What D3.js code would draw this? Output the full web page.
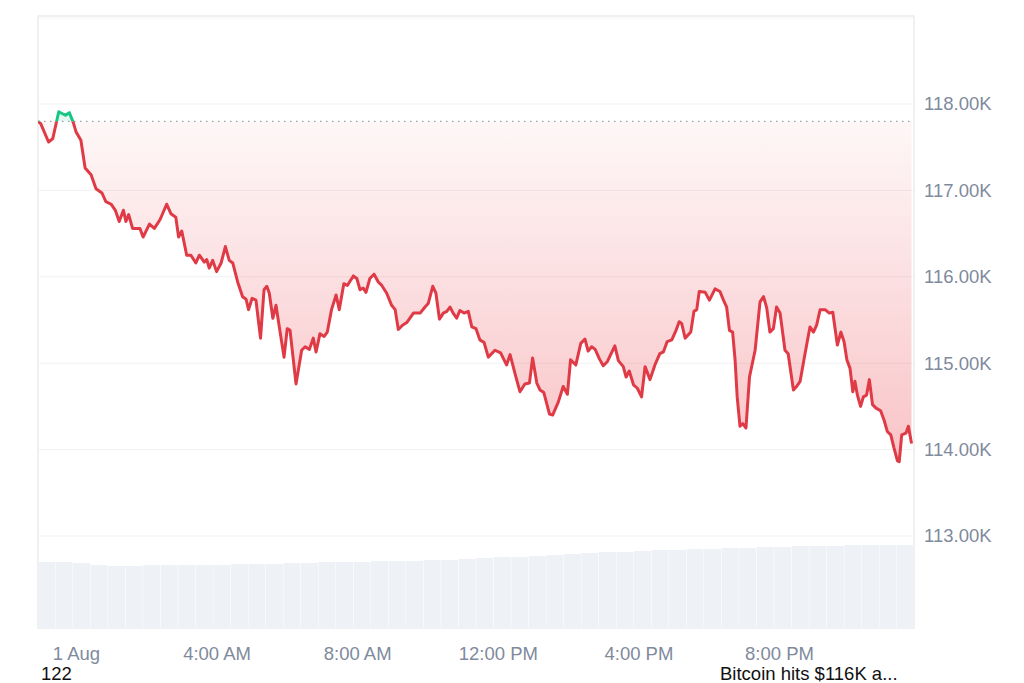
<!DOCTYPE html>
<html><head><meta charset="utf-8">
<script src="https://cdn.jsdelivr.net/npm/d3@7/dist/d3.min.js"></script>
<style>
html,body{margin:0;padding:0;background:#fff;}
svg{display:block;font-family:"Liberation Sans",Arial,sans-serif;}
</style></head>
<body>
<svg id="c" width="1024" height="683"></svg>
<script>
// hours since 1 Aug 00:00
const hours = [-1.08,-1.00,-0.78,-0.66,-0.55,-0.49,-0.30,-0.19,-0.08,0.00,0.14,0.26,0.43,0.57,0.74,0.85,1.00,1.12,1.23,1.35,1.42,1.50,1.61,1.82,1.91,2.09,2.23,2.39,2.58,2.70,2.84,2.92,3.01,3.15,3.27,3.41,3.51,3.65,3.72,3.79,3.89,4.00,4.13,4.25,4.36,4.46,4.60,4.74,4.84,4.91,5.01,5.12,5.25,5.35,5.43,5.50,5.60,5.69,5.80,5.92,6.01,6.09,6.26,6.42,6.52,6.64,6.75,6.83,6.94,7.06,7.15,7.27,7.40,7.49,7.62,7.72,7.89,7.99,8.08,8.17,8.25,8.36,8.48,8.60,8.70,8.84,8.98,9.08,9.17,9.29,9.41,9.60,9.79,9.93,10.02,10.15,10.24,10.34,10.45,10.55,10.64,10.73,10.83,10.92,11.04,11.16,11.26,11.38,11.49,11.61,11.73,11.92,12.08,12.25,12.35,12.49,12.63,12.77,12.90,12.99,13.11,13.20,13.31,13.47,13.56,13.72,13.86,13.98,14.07,14.22,14.36,14.48,14.57,14.67,14.77,14.89,15.00,15.12,15.21,15.33,15.43,15.57,15.65,15.74,15.86,15.97,16.09,16.19,16.33,16.47,16.61,16.71,16.82,16.95,17.07,17.16,17.23,17.33,17.49,17.58,17.66,17.73,17.90,18.02,18.18,18.32,18.42,18.51,18.59,18.68,18.75,18.81,18.89,18.97,19.06,19.16,19.32,19.46,19.56,19.65,19.74,19.84,19.93,20.03,20.17,20.26,20.41,20.50,20.60,20.74,20.88,20.98,21.07,21.17,21.31,21.43,21.53,21.66,21.76,21.85,21.93,22.02,22.10,22.16,22.23,22.32,22.40,22.49,22.57,22.66,22.76,22.89,22.99,23.08,23.18,23.27,23.37,23.42,23.49,23.61,23.68,23.77];
// price in thousands USD
const prices = [117.80,117.77,117.56,117.60,117.80,117.91,117.87,117.90,117.79,117.68,117.58,117.26,117.18,117.02,116.97,116.87,116.84,116.77,116.64,116.77,116.64,116.72,116.56,116.56,116.46,116.61,116.56,116.66,116.84,116.73,116.69,116.46,116.53,116.25,116.25,116.16,116.25,116.17,116.20,116.10,116.19,116.06,116.16,116.35,116.19,116.16,115.94,115.77,115.74,115.62,115.75,115.73,115.29,115.85,115.89,115.81,115.52,115.67,115.38,115.07,115.40,115.38,114.76,115.15,115.19,115.16,115.29,115.13,115.34,115.31,115.36,115.62,115.79,115.62,115.92,115.90,116.01,115.98,115.85,115.87,115.82,115.98,116.03,115.94,115.90,115.81,115.67,115.62,115.39,115.44,115.47,115.58,115.58,115.65,115.69,115.89,115.81,115.51,115.58,115.60,115.65,115.58,115.52,115.61,115.58,115.60,115.42,115.40,115.27,115.24,115.07,115.15,115.12,114.98,115.10,114.88,114.67,114.76,114.77,115.06,114.77,114.69,114.66,114.41,114.40,114.55,114.73,114.64,115.04,114.98,115.23,115.28,115.14,115.19,115.16,115.05,114.97,115.02,115.10,115.20,115.03,114.96,114.84,114.91,114.75,114.71,114.61,114.96,114.81,114.98,115.11,115.13,115.25,115.27,115.38,115.48,115.46,115.29,115.36,115.60,115.62,115.83,115.82,115.73,115.86,115.83,115.73,115.65,115.38,115.36,115.04,114.61,114.27,114.30,114.25,114.84,115.15,115.71,115.77,115.64,115.36,115.40,115.65,115.58,115.15,115.11,114.69,114.73,114.79,115.11,115.42,115.36,115.44,115.62,115.62,115.58,115.59,115.21,115.36,115.25,115.04,114.94,114.67,114.79,114.63,114.50,114.61,114.63,114.81,114.52,114.48,114.45,114.34,114.21,114.17,114.02,113.87,113.86,114.17,114.19,114.27,114.07];
const openPrice = 117.80;
// volume (relative units), one per 30-minute bucket
const volume = [66,66,65,63,62,62,63,63,63,63,63,64,64,64,65,65,66,66,66,67,67,67,68,68,69,70,71,71,72,73,74,75,76,76,77,78,78,79,79,80,80,81,81,82,82,82,83,83,83,83];
const yTicks = [113,114,115,116,117,118];
const xTickHours = [0,4,8,12,16,20];
const domainHours = [-1.08, 23.84];
const bottomLeftText = "122";
const bottomRightText = "Bitcoin hits $116K a...";

const base = new Date(2025,7,1,0,0,0).getTime();
const toDate = h => new Date(base + h*3600e3);
const data = hours.map((h,i)=>({t:toDate(h), p:prices[i]}));

const L=38, R=914, T=16, B=628;
const svg = d3.select("#c");
const x = d3.scaleTime().domain(domainHours.map(toDate)).range([L,R]);
const y = d3.scaleLinear().domain([113,118]).range([536,104]);
const yv = d3.scaleLinear().domain([0,100]).range([B, B-100]);

const defs = svg.append("defs");
const y0 = y(openPrice);
const ymin = y(d3.min(prices));
const gR = defs.append("linearGradient").attr("id","gr").attr("gradientUnits","userSpaceOnUse")
  .attr("x1",0).attr("x2",0).attr("y1",y0).attr("y2",ymin);
gR.append("stop").attr("offset",0).attr("stop-color","#ea3943").attr("stop-opacity",0.04);
gR.append("stop").attr("offset",1).attr("stop-color","#ea3943").attr("stop-opacity",0.30);
defs.append("clipPath").attr("id","below").append("rect").attr("x",L).attr("y",y0).attr("width",R-L).attr("height",B-y0);
defs.append("clipPath").attr("id","above").append("rect").attr("x",L).attr("y",T).attr("width",R-L).attr("height",y0-T);

// frame
svg.append("rect").attr("x",L).attr("y",T).attr("width",R-L).attr("height",B-T)
  .attr("fill","#fff").attr("stroke","#ececec").attr("stroke-width",1.5);
svg.append("line").attr("x1",L).attr("x2",R).attr("y1",T+2).attr("y2",T+2).attr("stroke","#f4f4f4");

// grid
svg.append("g").selectAll("line").data(yTicks).join("line")
  .attr("x1",L).attr("x2",R).attr("y1",d=>y(d)).attr("y2",d=>y(d))
  .attr("stroke","#eff1f3").attr("stroke-width",1);

// volume bars
const vb = d3.scaleBand().domain(d3.range(volume.length)).range([L,R]).paddingInner(0.03);
svg.append("g").selectAll("rect").data(volume).join("rect")
  .attr("x",(d,i)=>vb(i)).attr("width",vb.bandwidth())
  .attr("y",d=>yv(d)).attr("height",d=>B-yv(d)).attr("fill","#eef1f5");

// area fill
const area = d3.area().x(d=>x(d.t)).y0(y0).y1(d=>y(d.p));
svg.append("path").datum(data).attr("d",area).attr("fill","url(#gr)").attr("clip-path","url(#below)");
svg.append("path").datum(data).attr("d",area).attr("fill","#16c784").attr("fill-opacity",0.12).attr("clip-path","url(#above)");

// baseline dotted
svg.append("line").attr("x1",L).attr("x2",R).attr("y1",y0).attr("y2",y0)
  .attr("stroke","#9aa0a8").attr("stroke-width",1.3).attr("stroke-dasharray","1.5,4.5");

// price line
const line = d3.line().x(d=>x(d.t)).y(d=>y(d.p));
svg.append("path").datum(data).attr("d",line).attr("fill","none").attr("stroke","#df3a45")
  .attr("stroke-width",3).attr("stroke-linejoin","round").attr("clip-path","url(#below)");
svg.append("path").datum(data).attr("d",line).attr("fill","none").attr("stroke","#16c784")
  .attr("stroke-width",3).attr("stroke-linejoin","round").attr("clip-path","url(#above)");

// y axis
const yAxis = d3.axisRight(y).tickValues(yTicks).tickSize(0).tickPadding(10)
  .tickFormat(d=>d3.format(".2f")(d)+"K");
const gy = svg.append("g").attr("transform",`translate(${R},0)`).call(yAxis);
gy.select(".domain").remove();
gy.selectAll("text").attr("fill","#808a9d").style("font-size","18.5px");

// x axis
const fmt = d3.timeFormat("%-I:%M %p");
const xAxis = d3.axisBottom(x).tickValues(xTickHours.map(toDate)).tickSize(0).tickPadding(0)
  .tickFormat(d=>d.getHours()===0 ? d3.timeFormat("%-d %b")(d) : fmt(d));
const gx = svg.append("g").attr("transform",`translate(0,${647})`).call(xAxis);
gx.select(".domain").remove();
gx.selectAll("text").attr("fill","#808a9d").style("font-size","18.5px");

// bottom page text
svg.append("text").attr("x",41).attr("y",680).text(bottomLeftText).attr("fill","#111").style("font-size","18.5px");
svg.append("text").attr("x",720).attr("y",680).text(bottomRightText).attr("fill","#111").style("font-size","18.5px");
</script>
</body></html>
